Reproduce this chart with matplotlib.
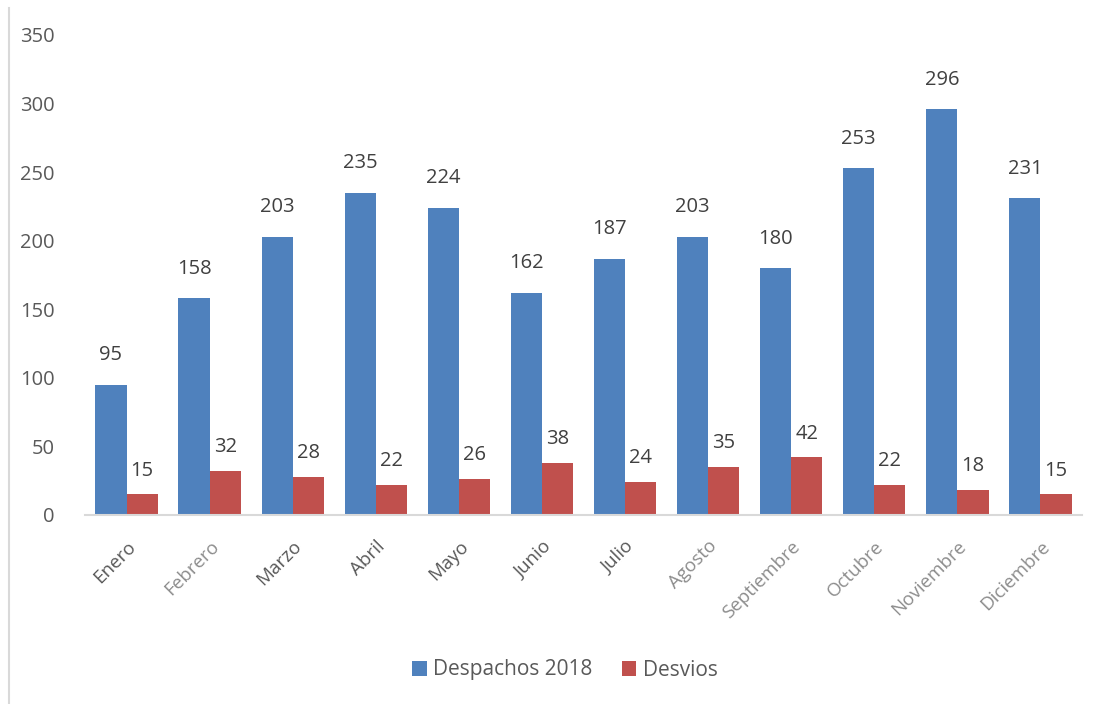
#!/usr/bin/env python3
import numpy as np
import matplotlib.pyplot as plt
from matplotlib.lines import Line2D

months = ["Enero", "Febrero", "Marzo", "Abril", "Mayo", "Junio", "Julio",
          "Agosto", "Septiembre", "Octubre", "Noviembre", "Diciembre"]
despachos = [95, 158, 203, 235, 224, 162, 187, 203, 180, 253, 296, 231]
desvios = [15, 32, 28, 22, 26, 38, 24, 35, 42, 22, 18, 15]
y_ticks = [0, 50, 100, 150, 200, 250, 300, 350]
# labels rendered fuzzy/lighter in the source image
faded = ["Febrero", "Agosto", "Septiembre", "Octubre", "Noviembre", "Diciembre"]

BLUE = "#4F81BD"
RED = "#C0504D"
TEXT = "#595959"

plt.rcParams["font.family"] = ["Open Sans", "DejaVu Sans"]

fig = plt.figure(figsize=(11.02, 7.04), dpi=100)
ax = fig.add_axes([85 / 1102, 1 - 515 / 704, 997 / 1102, 480 / 704])

x = np.arange(len(months))
w = 0.375
b1 = ax.bar(x - w / 2, despachos, w, color=BLUE, label="Despachos 2018")
b2 = ax.bar(x + w / 2, desvios, w, color=RED, label="Desvios")

ax.bar_label(b1, padding=14, fontsize=14.5, color="#404040")
ax.bar_label(b2, padding=10, fontsize=14.5, color="#404040")

ax.set_xlim(-0.5, len(months) - 0.5)
ax.set_ylim(0, 350)
ax.set_yticks(y_ticks)
ax.set_yticklabels([str(v) for v in y_ticks], fontsize=14.5, color=TEXT)
ax.set_xticks(x)
ax.set_xticklabels(months, fontsize=13.5, color=TEXT, rotation=45,
                   ha="right", va="top", rotation_mode="anchor")
for lbl in ax.get_xticklabels():
    if lbl.get_text() in faded:
        lbl.set_color("#8c8c8c")
ax.tick_params(axis="both", length=0)
ax.tick_params(axis="y", pad=22)
ax.tick_params(axis="x", pad=16)

for s in ["top", "right", "left"]:
    ax.spines[s].set_visible(False)
ax.spines["bottom"].set_color("#D9D9D9")
ax.spines["bottom"].set_linewidth(1.5)

fig.legend(loc="center", bbox_to_anchor=(565 / 1102, 1 - 670 / 704), ncol=2,
           frameon=False, fontsize=15, labelcolor=TEXT, handlelength=0.7,
           handleheight=0.7, handletextpad=0.3, columnspacing=1.4)

fig.add_artist(Line2D([9 / 1102, 9 / 1102], [0, 1 - 8 / 704],
                      color="#D9D9D9", linewidth=1.5))

fig.savefig("out.png", dpi=100)
plt.close(fig)
